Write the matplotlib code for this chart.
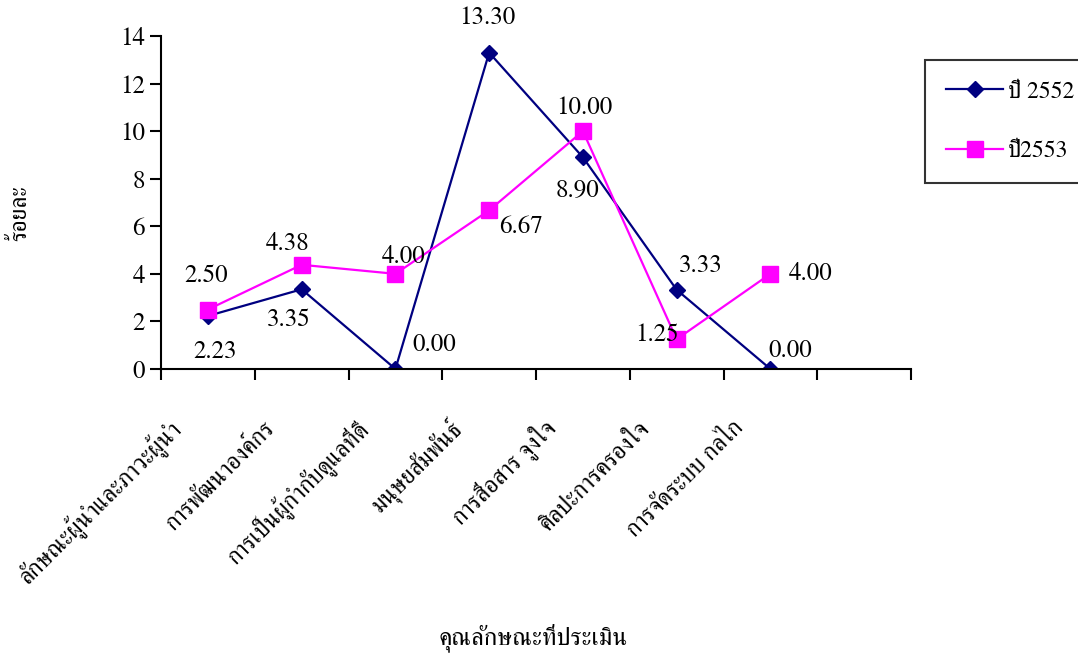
import numpy as np
import matplotlib
matplotlib.use("Agg")
import matplotlib.pyplot as plt

categories = ["ลักษณะผู้นำและภาวะผู้นำ", "การพัฒนาองค์กร", "การเป็นผู้กำกับดูแลที่ดี",
              "มนุษยสัมพันธ์", "การสื่อสาร จูงใจ", "ศิลปะการครองใจ", "การจัดระบบ กลไก"]
y2552 = [2.23, 3.35, 0.00, 13.30, 8.90, 3.33, 0.00]
y2553 = [2.50, 4.38, 4.00, 6.67, 10.00, 1.25, 4.00]
yticks = [0, 2, 4, 6, 8, 10, 12, 14]

plt.rcParams['font.family'] = ['FreeSerif', 'Liberation Serif', 'DejaVu Serif']
plt.rcParams['font.size'] = 18

fig = plt.figure(figsize=(10.78, 6.57), dpi=100)
ax = fig.add_axes([0.1494, 0.4384, 0.6957, 0.5068])

x = np.arange(len(categories))
ax.plot(x, y2552, color='#000080', marker='D', markersize=8, linewidth=1.6, label='ปี 2552')
ax.plot(x, y2553, color='#FF00FF', marker='s', markersize=11, linewidth=1.6, label='ปี2553')

# label offsets in points (dx, dy)
off52 = [(5, -26), (-9, -22), (28, 17), (-1, 25), (-4, -24), (17, 17), (14, 13)]
off53 = [(-1, 24), (-10, 15), (6, 12), (23, -12), (1, 17), (-14, 3), (29, 0)]
for i in range(len(x)):
    ax.annotate(f"{y2552[i]:.2f}", (x[i], y2552[i]), xytext=off52[i],
                textcoords='offset points', ha='center', va='center')
    ax.annotate(f"{y2553[i]:.2f}", (x[i], y2553[i]), xytext=off53[i],
                textcoords='offset points', ha='center', va='center')

ax.set_xlim(-0.5, 7.5)
ax.set_ylim(0, 14)
ax.set_yticks(yticks)
ax.set_xticks(np.arange(-0.5, 8.0, 1.0))
ax.set_xticklabels([])
ax.tick_params(axis='both', width=1.5, length=8, direction='out', labelsize=18)
ax.spines['top'].set_visible(False)
ax.spines['right'].set_visible(False)
ax.spines['left'].set_linewidth(1.5)
ax.spines['bottom'].set_linewidth(1.5)

for i, c in enumerate(categories):
    ax.annotate(c, (x[i], 0), xytext=(-22, -40), textcoords='offset points',
                rotation=45, ha='right', va='center', fontsize=17, rotation_mode='anchor')

fig.text(0.495, 0.03, 'คุณลักษณะที่ประเมิน', ha='center', va='center', fontsize=18)
fig.text(0.019, 0.675, 'ร้อยละ', ha='center', va='center', rotation=90, fontsize=17)

leg = fig.legend(loc='upper left', bbox_to_anchor=(0.858, 0.909), frameon=True,
                 fancybox=False, edgecolor='black', fontsize=17, handlelength=2.4,
                 borderpad=0.9, labelspacing=1.6, handletextpad=0.2, borderaxespad=0)
leg.get_frame().set_linewidth(1.5)

fig.savefig('out.png', dpi=100)
